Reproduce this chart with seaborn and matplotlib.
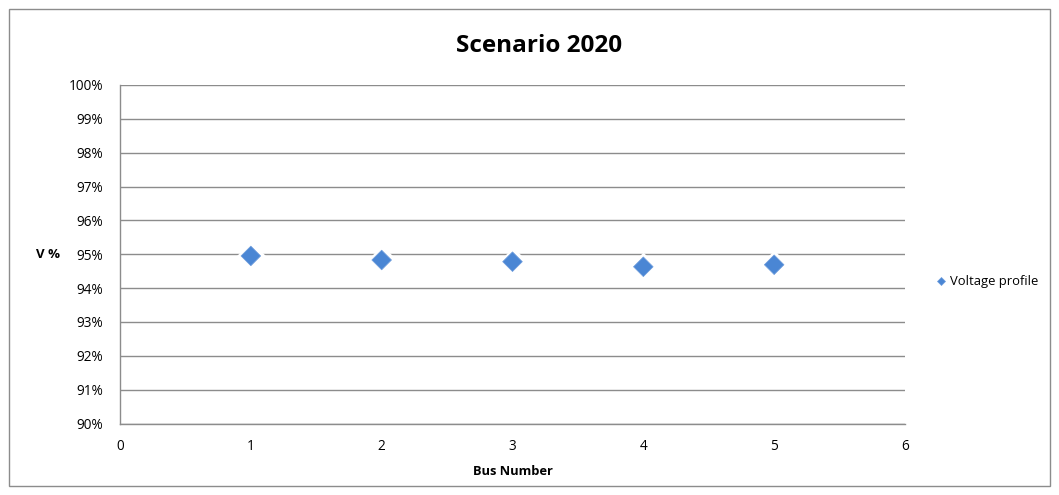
import matplotlib
matplotlib.use("Agg")
import matplotlib.pyplot as plt
import seaborn as sns
import pandas as pd
from matplotlib.patches import Rectangle
from matplotlib.ticker import FuncFormatter, MultipleLocator

bus_numbers = [1, 2, 3, 4, 5]
voltage_pct = [94.95, 94.83, 94.78, 94.63, 94.69]
series_name = "Voltage profile"
title = "Scenario 2020"

df = pd.DataFrame({"Bus Number": bus_numbers, "V": voltage_pct, "series": series_name})

sns.set_theme(style="white")
plt.rcParams['font.family'] = ['Open Sans', 'DejaVu Sans']

fig = plt.figure(figsize=(10.59, 4.95), dpi=100)
ax = fig.add_axes([120/1059, 1-423.5/495, (905-120)/1059, (423.5-85)/495])

grid_c = "#8c8c8c"
marker_c = "#4a86d4"
# white halo behind markers (gridline gap as in the original)
ax.scatter(df["Bus Number"], df["V"], marker="D", s=230, color="white", linewidths=0, zorder=2)
sns.scatterplot(data=df, x="Bus Number", y="V", hue="series", palette=[marker_c],
                marker="D", s=100, edgecolor="#6f9ddc", linewidth=0.5, ax=ax, zorder=3, legend=True)

ax.set_xlim(0, 6)
ax.set_ylim(90, 100)
ax.xaxis.set_major_locator(MultipleLocator(1))
ax.yaxis.set_major_locator(MultipleLocator(1))
ax.yaxis.set_major_formatter(FuncFormatter(lambda v, p: f"{v:.0f}%"))
ax.grid(axis="y", color=grid_c, linewidth=1.0)
ax.set_axisbelow(True)
for s in ["top", "right"]:
    ax.spines[s].set_visible(False)
for s in ["left", "bottom"]:
    ax.spines[s].set_color(grid_c)
    ax.spines[s].set_linewidth(1.0)
ax.tick_params(axis="both", which="major", length=4, width=1.0, color=grid_c,
               labelsize=9.8, labelcolor="#000000", direction="out")
ax.tick_params(axis="x", pad=7)
ax.tick_params(axis="y", pad=8)

ax.set_xlabel("Bus Number", fontsize=9.3, fontweight="bold", color="#000000", labelpad=8)
ax.set_ylabel("V %", fontsize=9.5, fontweight="bold", color="#000000", rotation=0,
              va="center", ha="center", labelpad=0)
ax.yaxis.set_label_coords((47.5-120)/785, 0.5)
fig.suptitle(title, x=539/1059, y=1-46/495, va="center", fontsize=17.5,
             fontweight="bold", color="#000000")

leg = ax.legend(loc="center left", bbox_to_anchor=(1.023, 1-(282-85)/338.5), frameon=False,
                fontsize=9.4, handletextpad=-0.35, markerscale=0.45, borderaxespad=0)
for t in leg.get_texts():
    t.set_color("#000000")

fig.patches.append(Rectangle((9/1059, 1-486/495), (1050-9)/1059, (486-9)/495,
                             transform=fig.transFigure, fill=False,
                             edgecolor="#8c8c8c", linewidth=1.0))

fig.savefig("out.png", dpi=100)
